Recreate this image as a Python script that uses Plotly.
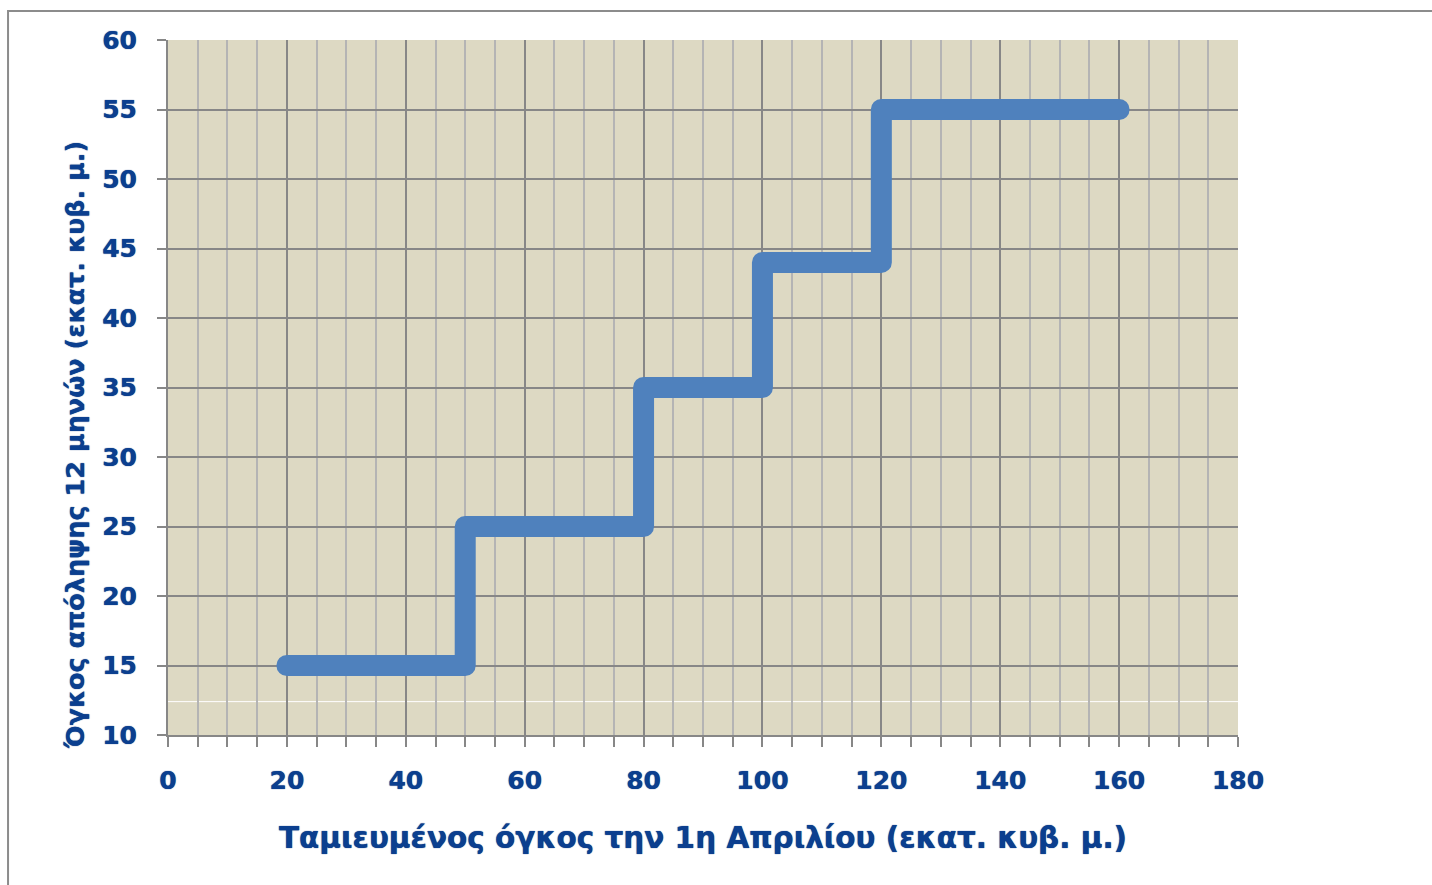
import plotly.graph_objects as go

# Data: storage on 1 April (x) and 12-month release (y), step function
storage = [20, 50, 80, 100, 120, 160]
release = [15, 25, 35, 44, 55, 55]

x_title = "Ταμιευμένος όγκος την 1η Απριλίου (εκατ. κυβ. μ.)"
y_title = "Όγκος απόληψης 12 μηνών (εκατ. κυβ. μ.)"

TEXT = "#0B3F8F"
FONT = "DejaVu Sans"
SHADOW = "0px 0px 1px #002C72"

fig = go.Figure()
fig.add_trace(go.Scatter(
    x=storage, y=release, mode="lines", line_shape="hv",
    line=dict(color="#4F81BD", width=21), hoverinfo="skip", showlegend=False,
))

fig.update_layout(
    width=1432, height=885, autosize=False,
    paper_bgcolor="white", plot_bgcolor="#DDD9C3",
    margin=dict(l=168, r=194, t=40, b=150),
    font=dict(family=FONT, color=TEXT, size=25, weight="bold", shadow=SHADOW),
    shapes=[
        # outer chart border (extends past the picture at right/bottom)
        dict(type="rect", xref="paper", yref="paper", x0=-0.1495, x1=1.2, y0=-0.25, y1=1.0417,
             line=dict(color="#8C8C8C", width=2), fillcolor="rgba(0,0,0,0)", layer="below"),
        # thin white line across plot area
        dict(type="line", xref="paper", yref="y", x0=0, x1=1, y0=12.4, y1=12.4,
             line=dict(color="white", width=1), layer="below"),
    ],
    annotations=[
        dict(text=y_title, xref="paper", yref="paper", x=-0.087, y=0.417,
             xanchor="center", yanchor="middle", textangle=-90, showarrow=False,
             font=dict(size=25.5, color=TEXT, family=FONT, weight="bold", shadow=SHADOW)),
    ],
)

fig.update_xaxes(
    range=[0, 180], dtick=20, tick0=0,
    showgrid=True, gridcolor="#878787", gridwidth=2,
    zeroline=False, showline=True, linecolor="#878787", linewidth=2,
    ticks="outside", ticklen=10, tickwidth=2, tickcolor="#878787",
    ticklabelstandoff=12,
    tickfont=dict(size=25, color=TEXT, family=FONT, weight="bold", shadow=SHADOW),
    minor=dict(dtick=5, showgrid=True, gridcolor="#B4B4B4", gridwidth=2,
               ticks="outside", ticklen=10, tickwidth=2, tickcolor="#878787"),
    title=dict(text=x_title, font=dict(size=29.5, color=TEXT, family=FONT, weight="bold", shadow=SHADOW),
               standoff=33),
    fixedrange=True,
)
fig.update_yaxes(
    range=[10, 60], dtick=5, tick0=10,
    showgrid=True, gridcolor="#878787", gridwidth=2,
    zeroline=False, showline=True, linecolor="#878787", linewidth=2,
    ticks="outside", ticklen=9, tickwidth=2, tickcolor="#878787",
    ticklabelstandoff=15,
    tickfont=dict(size=25, color=TEXT, family=FONT, weight="bold", shadow=SHADOW),
    fixedrange=True,
)

post = """
document.body.style.margin='0';
function roundCaps(){
  document.querySelectorAll('.scatterlayer .js-line').forEach(function(p){
    p.style.strokeLinecap='round'; p.style.strokeLinejoin='round';
  });
}
roundCaps();
var gd=document.getElementById('{plot_id}');
if(gd && gd.on){ gd.on('plotly_afterplot', roundCaps); }
"""

fig.write_html("out.html", post_script=post, config={"displayModeBar": False, "responsive": False})
